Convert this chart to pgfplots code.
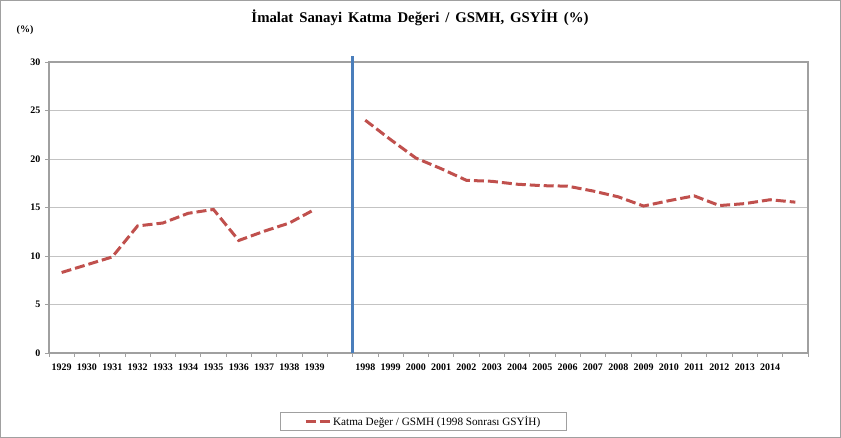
\documentclass[border=0pt]{standalone}
\usepackage{fontspec}
\setmainfont{Liberation Serif}
\usepackage{pgfplots}
\pgfplotsset{compat=1.18}
\definecolor{exred}{RGB}{192,80,77}
\definecolor{exblue}{RGB}{74,126,187}
\definecolor{axgray}{RGB}{160,160,160}
\definecolor{gridgray}{RGB}{195,195,195}
\pgfplotstableread{
x y
0 8.3
1 9.1
2 9.9
3 13.1
4 13.4
5 14.4
6 14.8
7 11.6
8 12.55
9 13.4
10 14.8
11 nan
12 24.0
13 22.0
14 20.1
15 19.0
16 17.8
17 17.7
18 17.4
19 17.25
20 17.2
21 16.7
22 16.1
23 15.15
24 15.7
25 16.2
26 15.2
27 15.4
28 15.8
29 15.55
}\katma
\begin{document}
\begin{tikzpicture}[x=1pt,y=1pt]
\useasboundingbox (0,0) rectangle (841,438);
\draw[axgray, line width=1pt] (0.5,0.5) rectangle (840.5,437.5);
\node[font=\bfseries\fontsize{14.8}{16}\selectfont] at (420,420) {\spaceskip=0.4em plus 0.1em İmalat Sanayi Katma Değeri / GSMH, GSYİH (\%)};
\node[font=\bfseries\fontsize{10}{12}\selectfont] at (25,408) {(\%)};
\begin{axis}[
  scale only axis, width=759pt, height=291pt,
  at={(49pt,85pt)}, anchor=south west,
  xmin=-0.5, xmax=29.5, ymin=0, ymax=30,
  clip=false,
  axis line style={axgray, line width=1.2pt},
  tick align=outside, major tick length=4pt,
  xtick pos=bottom, ytick pos=left,
  tick style={axgray, line width=0.8pt},
  ytick={0,5,10,15,20,25,30},
  ymajorgrids, grid style={gridgray, line width=0.8pt},
  xtick={-0.5,0.5,...,29.5}, xticklabels={},
  extra x ticks={0,1,2,3,4,5,6,7,8,9,10,12,13,14,15,16,17,18,19,20,21,22,23,24,25,26,27,28},
  extra x tick labels={1929,1930,1931,1932,1933,1934,1935,1936,1937,1938,1939,1998,1999,2000,2001,2002,2003,2004,2005,2006,2007,2008,2009,2010,2011,2012,2013,2014},
  extra x tick style={major tick length=0pt, grid=none},
  ticklabel style={font=\bfseries\fontsize{10}{12}\selectfont},
  /pgf/number format/assume math mode=true,
  xticklabel style={yshift=-7pt},
  yticklabel style={xshift=-1pt},
  unbounded coords=jump,
  legend style={at={(0.493,-0.235)}, anchor=center, draw=axgray, line width=0.8pt,
    font=\fontsize{11.2}{13}\selectfont, inner xsep=24pt, inner ysep=2pt},
  legend image code/.code={\draw[#1] (0pt,0pt) -- (24pt,0pt);},
]
\addplot[exblue, line width=3pt, forget plot] coordinates {(11.5,0) (11.5,30.6)};
\addplot[exred, line width=3pt, dash pattern=on 10pt off 4pt] table[x=x,y=y] {\katma};
\addlegendentry{Katma Değer / GSMH (1998 Sonrası GSYİH)}
\end{axis}
\end{tikzpicture}
\end{document}
